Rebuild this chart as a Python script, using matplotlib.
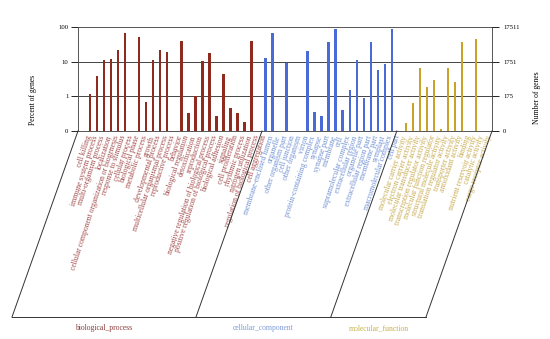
import matplotlib
matplotlib.use("Agg")
import matplotlib.pyplot as plt
from matplotlib.lines import Line2D
import numpy as np

plt.rcParams['font.family'] = ['Liberation Serif', 'DejaVu Serif']

total_genes = 17511

bp_terms = ["cell killing", "immune system process", "multi-organism process",
            "localization", "cellular component organization or biogenesis",
            "response to stimulus", "cellular process", "biological phase",
            "metabolic process", "growth", "developmental process",
            "multicellular organismal process", "reproductive process", "behavior",
            "biological regulation", "detoxification", "reproduction",
            "negative regulation of biological process",
            "positive regulation of biological process", "biological adhesion",
            "signaling", "cell proliferation", "rhythmic process",
            "nitrogen utilization", "regulation of biological process",
            "cell aggregation"]
bp_pct = [0, 1.16, 3.8, 11.3, 12.3, 21.9, 66, 0, 53, 0.68, 11.3, 21.9, 19.2, 0,
          39, 0.33, 1.03, 10.8, 17.6, 0.27, 4.45, 0.46, 0.33, 0.18, 40.5, 0]

cc_terms = ["membrane-enclosed lumen", "organelle", "other organism part",
            "cell junction", "other organism", "virion",
            "protein-containing complex", "synapse", "synapse part", "membrane",
            "cell", "supramolecular complex", "extracellular region",
            "organelle part", "extracellular region part", "membrane part",
            "symplast", "macromolecular complex", "cell part"]
cc_pct = [13.1, 66, 0, 9.05, 0, 0, 20.9, 0.35, 0.27, 37, 86, 0.41, 1.54, 11.5,
          0.9, 37, 5.9, 8.8, 86]

mf_terms = ["molecular carrier activity", "electron carrier activity",
            "molecular transducer activity", "transcription regulator activity",
            "molecular function regulator", "structural molecule activity",
            "translation regulator activity", "transporter activity",
            "antioxidant activity", "binding", "nutrient reservoir activity",
            "catalytic activity", "cargo receptor activity"]
mf_pct = [0, 0.17, 0.65, 6.5, 1.9, 2.9, 0.118, 6.5, 2.6, 37, 0, 44.5, 0]

left_ticks = [0.1, 1, 10, 100]
left_labels = ["0", "1", "10", "100"]
right_labels = ["0", "175", "1751", "17511"]
group_names = ["biological_process", "cellular_component", "molecular_function"]

bar_colors = ["#8E2A1E", "#4A6BD6", "#C9A227"]
label_colors = ["#A34A4A", "#6F90D2", "#C8AA4E"]
title_colors = ["#8B3A3A", "#7C9BD8", "#C8B048"]

W, H = 550, 339
fig = plt.figure(figsize=(W / 100, H / 100), dpi=100)
ax = fig.add_axes([78 / W, 1 - 131 / H, (492 - 78) / W, (131 - 27) / H])

groups = [(bp_terms, bp_pct), (cc_terms, cc_pct), (mf_terms, mf_pct)]
start = 0
bounds = []
for gi, (terms, pct) in enumerate(groups):
    xs = np.arange(start, start + len(terms))
    vals = np.array(pct, dtype=float)
    mask = vals > 0
    ax.bar(xs[mask], vals[mask] - 0.1, bottom=0.1, width=0.36,
           color=bar_colors[gi], edgecolor='none', zorder=3)
    for x, t in zip(xs, terms):
        ax.annotate(t, xy=(x, 0), xycoords=('data', 'axes fraction'),
                    xytext=(1.5, -2.5), textcoords='offset points',
                    ha='right', va='top', rotation=72, rotation_mode='anchor',
                    fontsize=5.5, color=label_colors[gi])
    bounds.append((start, start + len(terms) - 1))
    start += len(terms)

ax.set_yscale('log')
ax.set_ylim(0.1, 100)
ax.set_xlim(-0.71, start + 0.26)
ax.set_yticks(left_ticks)
ax.set_yticklabels(left_labels)
ax.minorticks_off()
ax.set_xticks([])
ax.tick_params(axis='y', labelsize=4.8, length=5, width=0.6, pad=2)
for v in [1, 10]:
    ax.axhline(v, color='#444444', lw=0.7, zorder=2)
for s in ax.spines.values():
    s.set_color('#555555')
    s.set_linewidth(0.7)

ax2 = ax.twinx()
ax2.set_yscale('log')
ax2.set_ylim(total_genes / 1000, total_genes)
ax2.set_yticks([total_genes / 1000, total_genes / 100, total_genes / 10, total_genes])
ax2.set_yticklabels(right_labels)
ax2.minorticks_off()
ax2.tick_params(axis='y', labelsize=4.8, length=5, width=0.6, pad=3)
for s in ax2.spines.values():
    s.set_visible(False)

fig.text(33 / W, 1 - 100 / H, "Percent of genes", rotation=90, ha='center',
         va='center', fontsize=5.5)
fig.text(537 / W, 1 - 98 / H, "Number of genes", rotation=90, ha='center',
         va='center', fontsize=5.5)

# parallelogram separators
fig.canvas.draw()
sep_x = [-0.71, (bounds[0][1] + bounds[1][0]) / 2,
         (bounds[1][1] + bounds[2][0]) / 2 + 0.2, start + 0.26]
tops = []
for sx in sep_x:
    px, py = ax.transData.transform((sx, 0.1))
    tops.append((px / W, py / H))
dx, dy = -66 / W, -186 / H
for tx, ty in tops:
    fig.add_artist(Line2D([tx, tx + dx], [ty, ty + dy], color='#333333', lw=0.7))
fig.add_artist(Line2D([tops[0][0] + dx, tops[-1][0] + dx], [tops[0][1] + dy] * 2,
                      color='#333333', lw=0.7))
for gi in range(3):
    cx = (tops[gi][0] + tops[gi + 1][0]) / 2 + dx
    fig.text(cx, tops[0][1] + dy - 11 / H, group_names[gi], ha='center',
             va='center', fontsize=5.5, color=title_colors[gi])

fig.savefig("out.png", dpi=100)
